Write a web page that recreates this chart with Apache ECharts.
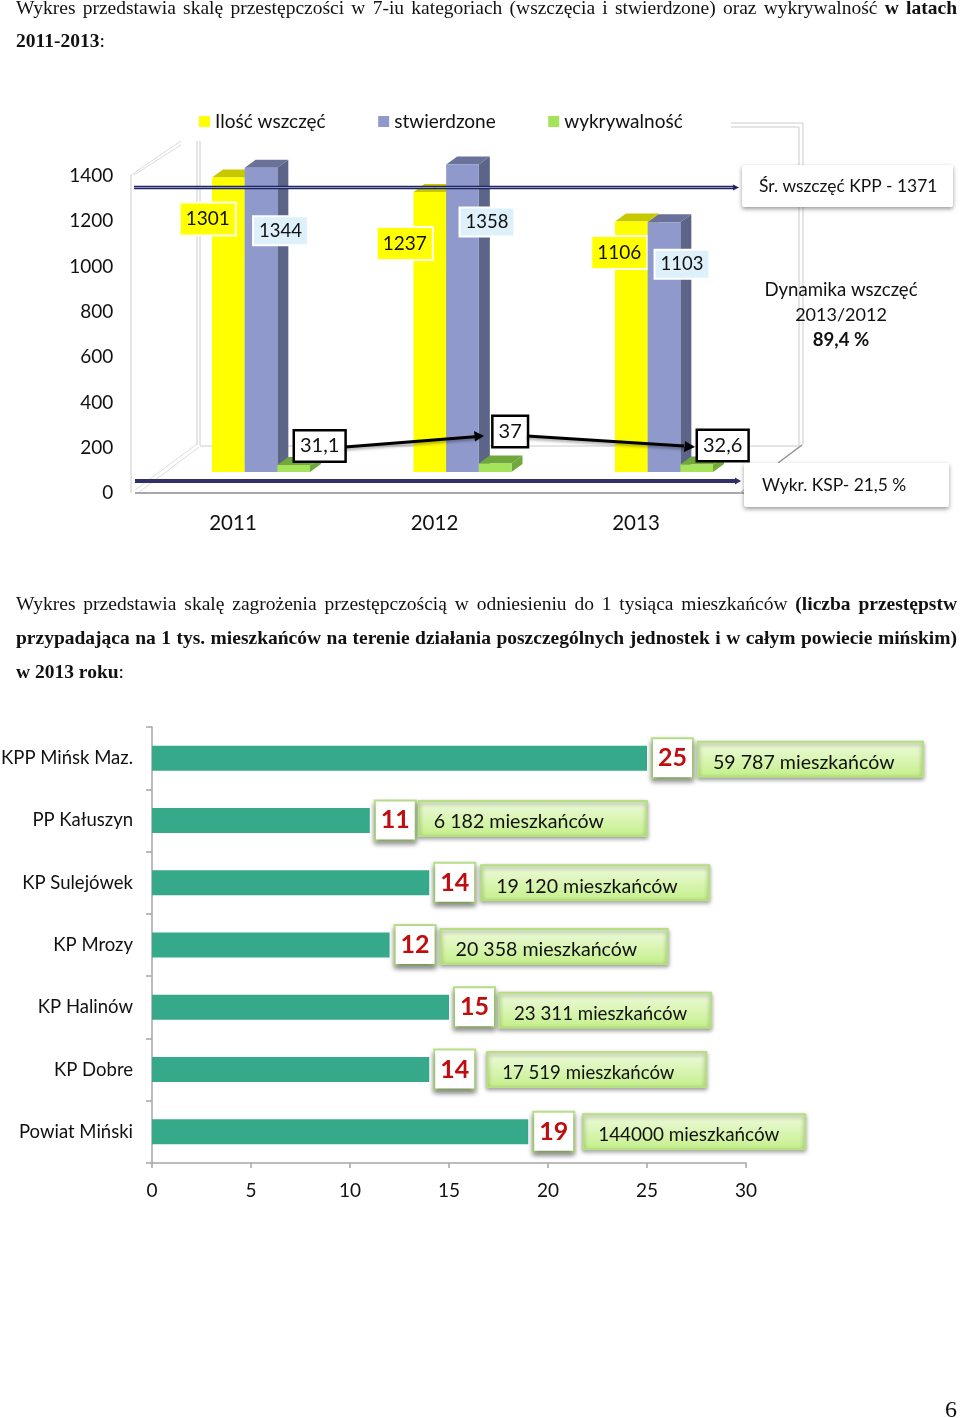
<!DOCTYPE html>
<html><head><meta charset="utf-8">
<script src="https://cdn.jsdelivr.net/npm/echarts@6/dist/echarts.min.js"></script>
<style>
html,body{margin:0;padding:0;background:#fff}
#page{position:relative;width:960px;height:1418px;overflow:hidden}
#chart{position:absolute;left:0;top:0;width:960px;height:1418px}
.ln{position:absolute;left:16px;width:941px;font:19.5px/26px "Liberation Serif",serif;color:#111;text-align:justify;text-align-last:justify;white-space:normal;height:26px;overflow:hidden}
.ln.l{text-align-last:left}
#pg{position:absolute;left:945px;top:1395px;font:24px/28px "Liberation Serif",serif;color:#111}
</style></head><body>
<div id="page">
<div id="chart"></div>
<div class="ln" style="top:-5px">Wykres przedstawia skalę przestępczości w 7-iu kategoriach (wszczęcia i stwierdzone) oraz wykrywalność <b>w latach</b></div>
<div class="ln l" style="top:28px"><b>2011-2013</b>:</div>
<div class="ln" style="top:591px">Wykres przedstawia skalę zagrożenia przestępczością w odniesieniu do 1 tysiąca mieszkańców <b>(liczba przestępstw</b></div>
<div class="ln" style="top:625px"><b>przypadająca na 1 tys. mieszkańców na terenie działania poszczególnych jednostek i w całym powiecie mińskim)</b></div>
<div class="ln l" style="top:659px"><b>w 2013 roku</b>:</div>
<div id="pg">6</div>
</div>
<script>
// ---- top chart data
const years = ['2011','2012','2013'];
const cases = [1301,1237,1106];
const confirmed = [1344,1358,1103];
const detection = [31.1,37,32.6];
const detectionLabels = ['31,1','37','32,6'];
const yTicks = {min:0,max:1400,step:200};
// ---- bottom chart data
const units = ['KPP Mińsk Maz.','PP Kałuszyn','KP Sulejówek','KP Mrozy','KP Halinów','KP Dobre','Powiat Miński'];
const threat = [25,11,14,12,15,14,19];
const residents = ['59 787 mieszkańców','6 182 mieszkańców','19 120 mieszkańców','20 358 mieszkańców','23 311 mieszkańców','17 519 mieszkańców','144000 mieszkańców'];
// ---- label placement (styling only)
const casesOffsets = [[-20.5,41.5],[-25,51.5],[-12,31]];
const confirmedOffsets = [[19.5,63],[24.5,57.5],[18,42]];
const detectionOffsets = [[26,-19],[15,-32],[26,-19]];
const boxGap = [51,49,52,51,50,58,55];
const boxW = [225,228,228,227,212,219,222];
const boxDy = [1,-2,0,1.5,3,0,0];
const boxFont = [19.6,19.6,19.6,19.6,18.7,18.6,18.9];

const FONT='Lato';
const DX=11, DY=-8, BAND_RATIO=0.1622;
function bar3d(slot,colors,labelFn){
  return function(params,api){
    const i=api.value(0), v=api.value(1);
    const base=api.coord([i,0]), top=api.coord([i,v]);
    const w=api.size([1,0])[0]*BAND_RATIO;
    const x0=base[0]+(slot-0.5)*w, x1=x0+w, y0=top[1], y1=base[1];
    const kids=[
      {type:'polygon',shape:{points:[[x0,y0],[x1,y0],[x1+DX,y0+DY],[x0+DX,y0+DY]]},style:{fill:colors[1]}},
      {type:'polygon',shape:{points:[[x1,y0],[x1+DX,y0+DY],[x1+DX,y1+DY],[x1,y1]]},style:{fill:colors[2]}},
      {type:'rect',shape:{x:x0,y:y0,width:w,height:y1-y0},style:{fill:colors[0]}}
    ];
    const L=labelFn(i);
    kids.push({type:'text',z2:30,x:(x0+x1)/2+L.off[0],y:y0+L.off[1],style:Object.assign({text:L.text,align:'center',verticalAlign:'middle',fill:'#111'},L.style)});
    return {type:'group',children:kids};
  };
}
const yellowLabel={font:'19px '+FONT,backgroundColor:'#ffff00',borderColor:'#fffff0',borderWidth:2,padding:[6,5,6,5]};
const blueLabel={font:'18.5px '+FONT,backgroundColor:'#def1fb',borderColor:'#ffffff',borderWidth:2,padding:[4,5,4,5]};
const blackLabel={font:'20px '+FONT,backgroundColor:'#ffffff',borderColor:'#000000',borderWidth:2.5,padding:[5,5,4,5]};

function seg(x1,y1,x2,y2,c,w,z){return {type:'line',z:z||1,shape:{x1,y1,x2,y2},style:{stroke:c,lineWidth:w||1}};}
const wall='#dcdcdc';
const graphics=[
  // 3D frame
  seg(131,175,131,493,wall,1.5),seg(131,175,181,141,wall),seg(134,175,181,145,wall),
  seg(197,141,197,445,wall,1.5),seg(200,141,200,445,wall,1.5),
  seg(135,490,197,444,wall),seg(138,493,199,447,wall),
  seg(200,446,800,446,wall,1.5),
  seg(135,493,745,493,'#a8a8a8',2),
  seg(731,123,803,123,wall,1.5),seg(731,127,799,127,wall,1.5),
  seg(803,123,803,445,wall,1.5),seg(799,127,799,445,wall,1.5),
  seg(802,445,778,463,'#909090',1.5),seg(740,493,747,488,'#c0c0c0',1.5),
  // reference lines
  seg(134,187.5,735,187.5,'#1f2560',3.5,10),seg(134,187.5,735,187.5,'#8f93c0',1,11),
  {type:'polygon',z:11,shape:{points:[[733,184.5],[739,187.5],[733,190.5]]},style:{fill:'#1f2560'}},
  seg(135,481,737,481,'#2f3068',4,10),
  {type:'polygon',z:11,shape:{points:[[735,477.5],[741,481],[735,484.5]]},style:{fill:'#2f3068'}},
  // connector arrows
  {type:'line',z:12,shape:{x1:345,y1:447,x2:478,y2:436.5},style:{stroke:'#000',lineWidth:3,shadowBlur:3,shadowOffsetY:2,shadowColor:'rgba(0,0,0,.35)'}},
  {type:'polygon',z:12,shape:{points:[[484,436],[474,431],[475,441.5]]},style:{fill:'#000'}},
  {type:'line',z:12,shape:{x1:527,y1:436,x2:684,y2:446},style:{stroke:'#000',lineWidth:3,shadowBlur:3,shadowOffsetY:2,shadowColor:'rgba(0,0,0,.35)'}},
  {type:'polygon',z:12,shape:{points:[[695,447],[685,441],[684,452]]},style:{fill:'#000'}},
  // callouts
  {type:'rect',z:15,shape:{x:742,y:165,width:211,height:42,r:2},style:{fill:'#fff',shadowBlur:4,shadowOffsetY:2,shadowColor:'rgba(0,0,0,.4)'}},
  {type:'text',z:16,x:759,y:186,style:{text:'Śr. wszczęć KPP - 1371',font:'17.4px '+FONT,fill:'#111',verticalAlign:'middle'}},
  {type:'rect',z:15,shape:{x:744,y:463,width:205,height:44,r:2},style:{fill:'#fff',shadowBlur:4,shadowOffsetY:2,shadowColor:'rgba(0,0,0,.4)'}},
  {type:'text',z:16,x:762,y:485,style:{text:'Wykr. KSP- 21,5 %',font:'17.4px '+FONT,fill:'#111',verticalAlign:'middle'}},
  {type:'text',z:16,x:841,y:290,style:{text:'Dynamika wszczęć',font:'18.6px '+FONT,fill:'#111',align:'center',verticalAlign:'middle'}},
  {type:'text',z:16,x:841,y:315,style:{text:'2013/2012',font:'18px '+FONT,fill:'#111',align:'center',verticalAlign:'middle'}},
  {type:'text',z:16,x:841,y:340,style:{text:'89,4 %',font:'bold 18.6px '+FONT,fill:'#111',align:'center',verticalAlign:'middle'}}
];

const chart=echarts.init(document.getElementById('chart'),null,{renderer:'canvas',width:960,height:1418});
chart.setOption({
  animation:false,
  backgroundColor:'#fff',
  textStyle:{fontFamily:FONT},
  legend:{left:199,top:112,padding:0,itemWidth:11,itemHeight:11,itemGap:52.5,icon:'rect',
    data:['Ilość wszczęć','stwierdzone','wykrywalność'],
    textStyle:{fontFamily:FONT,fontSize:19,color:'#111'}},
  grid:[
    {left:160.25,width:604.5,top:155,height:317,outerBoundsMode:'none'},
    {left:152,width:594,top:727,height:436,outerBoundsMode:'none'},
    // carries the value labels, drawn 21px below the bars' scale as in the 3D original
    {left:160.25,width:604.5,top:176,height:317,outerBoundsMode:'none'}
  ],
  xAxis:[
    {gridIndex:0,type:'category',data:years,axisLine:{show:false},axisTick:{show:false},
     axisLabel:{margin:41,fontFamily:FONT,fontSize:20.5,color:'#111',padding:[0,56,0,0]}},
    {gridIndex:1,type:'value',min:0,max:30,interval:5,splitLine:{show:false},
     axisLine:{show:true,lineStyle:{color:'#a6a6a6',width:1.5}},
     axisTick:{show:true,length:5,lineStyle:{color:'#a6a6a6',width:1.5}},
     axisLabel:{margin:18,fontFamily:FONT,fontSize:19,color:'#111'}},
    {gridIndex:2,type:'category',data:years,show:false}
  ],
  yAxis:[
    {gridIndex:0,type:'value',min:yTicks.min,max:yTicks.max,interval:yTicks.step,show:false},
    {gridIndex:1,type:'category',data:units,inverse:true,
     axisLine:{show:true,lineStyle:{color:'#a6a6a6',width:1.5}},
     axisTick:{show:true,length:6,lineStyle:{color:'#a6a6a6',width:1.5}},
     axisLabel:{margin:19,fontFamily:FONT,fontSize:18.5,color:'#111'}},
    {gridIndex:2,type:'value',min:yTicks.min,max:yTicks.max,interval:yTicks.step,splitLine:{show:false},
     axisLine:{show:false},axisTick:{show:false},
     axisLabel:{margin:47,fontFamily:FONT,fontSize:19,color:'#111',formatter:v=>String(v)}}
  ],
  series:[
    {name:'Ilość wszczęć',type:'custom',xAxisIndex:0,yAxisIndex:0,clip:false,z:3,
     itemStyle:{color:'#ffff00'},encode:{x:0,y:1},
     data:cases.map((v,i)=>[i,v]),
     renderItem:bar3d(-1,['#ffff00','#c8c800','#c8c800'],i=>({text:String(cases[i]),off:casesOffsets[i],style:yellowLabel}))},
    {name:'stwierdzone',type:'custom',xAxisIndex:0,yAxisIndex:0,clip:false,z:4,
     itemStyle:{color:'#8f99cb'},encode:{x:0,y:1},
     data:confirmed.map((v,i)=>[i,v]),
     renderItem:bar3d(0,['#8f99cb','#6b7299','#5c6488'],i=>({text:String(confirmed[i]),off:confirmedOffsets[i],style:blueLabel}))},
    {name:'wykrywalność',type:'custom',xAxisIndex:0,yAxisIndex:0,clip:false,z:5,
     itemStyle:{color:'#a4e35a'},encode:{x:0,y:1},
     data:detection.map((v,i)=>[i,v]),
     renderItem:bar3d(1,['#a4e35a','#70a83c','#70a83c'],i=>({text:detectionLabels[i],off:detectionOffsets[i],style:blackLabel}))},
    {name:'Zagrożenie',type:'bar',xAxisIndex:1,yAxisIndex:1,barWidth:25,z:3,
     itemStyle:{color:'#36a98a'},data:threat,
     label:{show:true,position:'right',distance:6,fontFamily:FONT,fontWeight:'bold',fontSize:25,color:'#c00d0d',
       backgroundColor:'#fff',borderColor:'#b9e08c',borderWidth:2,padding:[5,5,5,5],
       shadowBlur:5,shadowOffsetX:0,shadowOffsetY:3,shadowColor:'rgba(0,0,0,.4)',lineHeight:28}},
    {name:'Mieszkańcy',type:'custom',xAxisIndex:1,yAxisIndex:1,clip:false,z:4,encode:{x:0,y:1},
     data:threat.map((v,i)=>[v,i]),
     renderItem:function(params,api){
       const i=params.dataIndex, end=api.coord([api.value(0),api.value(1)]);
       const x=end[0]+boxGap[i], h=35, y=end[1]-h/2+boxDy[i];
       return {type:'group',children:[
         {type:'rect',shape:{x,y,width:boxW[i],height:h},style:{
           fill:new echarts.graphic.LinearGradient(0,0,0,1,[{offset:0,color:'#f0fbe0'},{offset:1,color:'#c4ef88'}]),
           stroke:'#b5df80',lineWidth:2,shadowBlur:4,shadowOffsetY:2,shadowColor:'rgba(0,0,0,.35)'}},
         {type:'text',x:x+15,y:y+h/2+3.5,style:{text:residents[i],font:boxFont[i]+'px '+FONT,fill:'#111',verticalAlign:'middle'}}
       ]};
     }}
  ],
  graphic:{elements:graphics}
});
</script>
</body></html>
